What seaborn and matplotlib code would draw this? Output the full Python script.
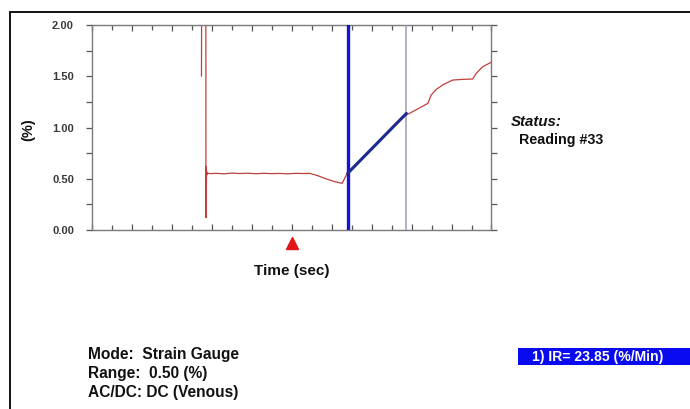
import matplotlib
matplotlib.use("Agg")
import matplotlib.pyplot as plt
from matplotlib.lines import Line2D
from matplotlib.patches import Rectangle
from matplotlib.ticker import MultipleLocator, NullFormatter
import numpy as np
import pandas as pd
import seaborn as sns

# Strain-gauge trace (time in s, strain in %)
time_s = [2.740, 2.742, 2.745, 2.850, 2.851, 2.853, 2.857, 2.862, 2.867, 2.875,
          2.890, 2.950, 3.100, 3.300, 3.500, 3.700, 3.900, 4.100, 4.300, 4.500,
          4.700, 4.900, 5.100, 5.300, 5.450, 5.650, 5.850, 6.050, 6.200, 6.260,
          6.320, 6.400, 6.800, 7.200, 7.600, 7.870, 8.100, 8.410, 8.490, 8.620,
          8.800, 9.030, 9.300, 9.530, 9.620, 9.780, 9.970, 10.000]
strain_pct = [1.50, 1.80, 2.40, 2.40, 1.20, 0.12, 0.62, 0.37, 0.58, 0.54,
              0.555, 0.550, 0.553, 0.548, 0.555, 0.551, 0.554, 0.549, 0.553, 0.550,
              0.552, 0.548, 0.553, 0.551, 0.553, 0.530, 0.500, 0.475, 0.460, 0.456,
              0.500, 0.563, 0.720, 0.880, 1.040, 1.122, 1.170, 1.236, 1.317, 1.373,
              1.420, 1.463, 1.470, 1.473, 1.529, 1.593, 1.632, 1.640]

# Cursor positions (s) and the infusion-rate fit
cursor_start = 6.40
cursor_end = 7.87
fit_start_value = 0.553
infusion_rate = 23.85          # %/min
marker_time = 5.0

x_ticks_major = np.arange(0, 10.01, 1.0)
y_tick_values = [0.0, 0.5, 1.0, 1.5, 2.0]
y_tick_labels = ["0.00", "0.50", "1.00", "1.50", "2.00"]

info_lines = ["Mode:  Strain Gauge", "Range:  0.50 (%)", "AC/DC: DC (Venous)"]

sns.set_style("white")
plt.rcParams["font.family"] = ["Liberation Sans", "DejaVu Sans"]

W, H = 690, 409
fig = plt.figure(figsize=(W / 100, H / 100), dpi=100)
ax = fig.add_axes([92 / W, 1 - 230 / H, (491.5 - 92) / W, (230 - 25) / H])

trace = pd.DataFrame({"time": time_s, "strain": strain_pct})
sns.lineplot(data=trace, x="time", y="strain", ax=ax, sort=False, estimator=None,
             color="#c0403c", linewidth=0.9)

# Cursors
ax.axvline(cursor_start, color="#1515d0", linewidth=2.4, zorder=4)
ax.axvline(cursor_end, color="#9a9ab8", linewidth=1.1, zorder=4)

# Linear fit drawn from the reported rate
slope = infusion_rate / 60.0
fit = pd.DataFrame({"time": [cursor_start, cursor_end],
                    "strain": [fit_start_value,
                               fit_start_value + slope * (cursor_end - cursor_start)]})
sns.lineplot(data=fit, x="time", y="strain", ax=ax, color="#1c2c90",
             linewidth=2.2, zorder=5)

# Event marker below the axis
ax.plot([marker_time], [-0.065], marker="^", markersize=8.5, color="#e01515",
        clip_on=False, transform=ax.get_xaxis_transform(), zorder=6)

ax.set_xlim(0, 10)
ax.set_ylim(0, 2.0)
ax.set_xlabel("")
ax.set_ylabel("")

for side in ["left", "right", "top", "bottom"]:
    ax.spines[side].set_visible(True)
    ax.spines[side].set_color("#7a7a7a")
    ax.spines[side].set_linewidth(1.0)

ax.set_xticks(x_ticks_major)
ax.xaxis.set_minor_locator(MultipleLocator(0.5))
ax.xaxis.set_major_formatter(NullFormatter())
ax.tick_params(axis="x", which="major", direction="in", length=4.5, width=0.9,
               color="#555555", top=True, bottom=True)
ax.tick_params(axis="x", which="minor", direction="in", length=3.5, width=0.9,
               color="#555555", top=True, bottom=True)

ax.set_yticks(y_tick_values)
ax.set_yticklabels(y_tick_labels)
ax.yaxis.set_minor_locator(MultipleLocator(0.25))
ax.tick_params(axis="y", which="major", direction="out", length=4, width=0.9,
               color="#555555", left=True, right=True, pad=9,
               labelsize=8, labelcolor="#3a3a3a")
ax.tick_params(axis="y", which="minor", direction="out", length=4, width=0.9,
               color="#555555", left=True, right=True)
for lbl in ax.get_yticklabels():
    lbl.set_fontweight("bold")

# Labels
fig.text(28 / W, 1 - 130 / H, "(%)", rotation=90, ha="center", va="center",
         fontsize=10.5, fontweight="bold", color="#111111")
fig.text(291.5 / W, 1 - 271 / H, "Time (sec)", ha="center", va="center",
         fontsize=11, fontweight="bold", color="#111111")

fig.text(511 / W, 1 - 122 / H, "Status:", ha="left", va="center",
         fontsize=10.8, fontweight="bold", fontstyle="italic", color="#111111")
fig.text(519 / W, 1 - 140 / H, "Reading #33", ha="left", va="center",
         fontsize=10.3, fontweight="bold", color="#111111")

for i, line in enumerate(info_lines):
    fig.text(88 / W, 1 - (355 + i * 18.5) / H, line, ha="left", va="center",
             fontsize=11.2, fontweight="bold", color="#111111")

# Rate readout box
fig.patches.append(Rectangle((517.5 / W, 1 - 364.5 / H), (W - 517.5) / W, 16.5 / H,
                             transform=fig.transFigure, facecolor="#0a0af0",
                             edgecolor="none", zorder=1))
fig.text(531.5 / W, 1 - 356.5 / H, f"1) IR= {infusion_rate:.2f} (%/Min)",
         ha="left", va="center", fontsize=10.1, fontweight="bold", color="white",
         zorder=2)

# Panel frame
fig.add_artist(Line2D([10 / W, 1.0], [1 - 12 / H, 1 - 12 / H],
                      transform=fig.transFigure, color="black", linewidth=1.3))
fig.add_artist(Line2D([10 / W, 10 / W], [1 - 12 / H, 0.0],
                      transform=fig.transFigure, color="black", linewidth=1.3))

fig.savefig("out.png", dpi=100, facecolor="white")
